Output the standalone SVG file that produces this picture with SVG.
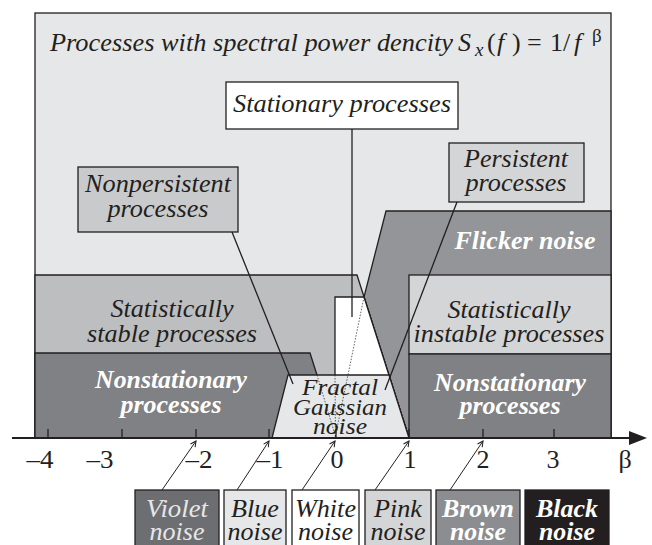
<svg xmlns="http://www.w3.org/2000/svg" width="652" height="545" viewBox="0 0 652 545">
<defs>
<style>
text{font-family:"Liberation Serif","Times New Roman",serif}
.t{font-style:italic;font-size:26px;fill:#231f20;text-anchor:middle}
.tb{font-style:italic;font-weight:bold;font-size:26px;fill:#ffffff;text-anchor:middle}
.n{font-size:26px;fill:#231f20;text-anchor:middle}
.r{stroke:#231f20;stroke-width:1.3;stroke-linejoin:miter}
.ln{stroke:#231f20;stroke-width:1.3;fill:none}
.dot{stroke:#231f20;stroke-width:0.7;fill:none;stroke-dasharray:1.5 1.5}
.ar{stroke:#231f20;stroke-width:1;fill:none;marker-end:url(#ah)}
</style>
<marker id="ah" viewBox="0 0 10 10" refX="9" refY="5" markerWidth="7" markerHeight="7" orient="auto" markerUnits="userSpaceOnUse">
<path d="M1,1 L9,5 L1,9" fill="none" stroke="#231f20" stroke-width="1.5"/>
</marker>
</defs>
<rect width="652" height="545" fill="#ffffff"/>

<g id="all-processes">
<rect class="r" x="35" y="13" width="576" height="425" fill="#e6e7e8"/>
<text class="t" x="50" y="51" style="text-anchor:start" textLength="403" lengthAdjust="spacingAndGlyphs">Processes with spectral power dencity</text>
<text class="t" x="458" y="51" style="text-anchor:start">S</text>
<text class="t" x="475" y="56" style="text-anchor:start;font-size:19px">x</text>
<text class="t" x="487" y="51" style="text-anchor:start;font-style:normal">(</text>
<text class="t" x="497" y="51" style="text-anchor:start">f</text>
<text class="t" x="512" y="51" style="text-anchor:start;font-style:normal">)</text>
<text class="t" x="527" y="51" style="text-anchor:start;font-style:normal">=</text>
<text class="t" x="550" y="51" style="text-anchor:start;font-style:normal">1/</text>
<text class="t" x="574" y="51" style="text-anchor:start">f</text>
<text class="t" x="592" y="42" style="text-anchor:start;font-style:normal;font-size:19px">β</text>
</g>

<g id="flicker-noise">
<polygon class="r" points="386,211 611,211 611,438 409,438 364,297" fill="#939598"/>
<text class="tb" x="525" y="249" textLength="141" lengthAdjust="spacingAndGlyphs">Flicker noise</text>
</g>

<g id="statistically-stable">
<polygon class="r" points="35,275 357,275 409,438 35,438" fill="#bdbec0"/>
<text class="t" x="172" y="317" textLength="123" lengthAdjust="spacingAndGlyphs">Statistically</text>
<text class="t" x="172" y="342" textLength="170" lengthAdjust="spacingAndGlyphs">stable processes</text>
</g>

<g id="statistically-instable">
<rect class="r" x="409" y="275" width="202" height="79" fill="#d4d5d6"/>
<text class="t" x="509" y="318" textLength="123" lengthAdjust="spacingAndGlyphs">Statistically</text>
<text class="t" x="509" y="342" textLength="191" lengthAdjust="spacingAndGlyphs">instable processes</text>
</g>

<g id="nonstationary-right">
<rect class="r" x="409" y="354" width="202" height="84" fill="#808184"/>
<text class="tb" x="510" y="391" textLength="152" lengthAdjust="spacingAndGlyphs">Nonstationary</text>
<text class="tb" x="510" y="414" textLength="101" lengthAdjust="spacingAndGlyphs">processes</text>
</g>

<g id="nonstationary-left">
<polygon class="r" points="35,353 310,353 337,438 35,438" fill="#808184"/>
<text class="tb" x="171" y="388" textLength="152" lengthAdjust="spacingAndGlyphs">Nonstationary</text>
<text class="tb" x="171" y="413" textLength="101" lengthAdjust="spacingAndGlyphs">processes</text>
</g>

<g id="stationary-area">
<polygon class="r" points="335,438 335,297 364,297 409,438" fill="#ffffff"/>
</g>

<g id="fractal-gaussian-noise">
<polygon class="r" points="272,438 288,375 389,375 409,438" fill="#e6e7e8"/>
<text class="t" x="340" y="395" style="font-size:23px" textLength="76" lengthAdjust="spacingAndGlyphs">Fractal</text>
<text class="t" x="340" y="415" style="font-size:23px" textLength="94" lengthAdjust="spacingAndGlyphs">Gaussian</text>
<text class="t" x="340" y="434" style="font-size:23px" textLength="54" lengthAdjust="spacingAndGlyphs">noise</text>
</g>

<g id="stationary-processes">
<rect class="r" x="226" y="82" width="232" height="47" fill="#ffffff"/>
<text class="t" x="342" y="112" textLength="218" lengthAdjust="spacingAndGlyphs">Stationary processes</text>
</g>

<g id="nonpersistent-processes">
<rect class="r" x="78" y="167" width="160" height="65" fill="#c9cacc"/>
<text class="t" x="158" y="192" textLength="146" lengthAdjust="spacingAndGlyphs">Nonpersistent</text>
<text class="t" x="158" y="217" textLength="101" lengthAdjust="spacingAndGlyphs">processes</text>
</g>

<g id="persistent-processes">
<rect class="r" x="449" y="143" width="135" height="59" fill="#d4d5d7"/>
<text class="t" x="516" y="167" textLength="104" lengthAdjust="spacingAndGlyphs">Persistent</text>
<text class="t" x="516" y="191" textLength="101" lengthAdjust="spacingAndGlyphs">processes</text>
</g>

<g id="connectors">
<line class="dot" x1="364" y1="297" x2="335" y2="438"/>
<line class="dot" x1="317" y1="375" x2="336" y2="438"/>
<line class="dot" x1="335" y1="375" x2="335.5" y2="438"/>
<line class="ln" x1="352" y1="129" x2="352" y2="317"/>
<line class="ln" x1="232" y1="232" x2="293" y2="384"/>
<line class="ln" x1="457" y1="202" x2="385" y2="390"/>
<line class="ar" x1="162" y1="490" x2="196" y2="441"/>
<line class="ar" x1="237" y1="490" x2="269" y2="441"/>
<line class="ar" x1="302" y1="490" x2="335" y2="441"/>
<line class="ar" x1="375" y1="490" x2="409" y2="441"/>
<line class="ar" x1="450" y1="490" x2="483" y2="441"/>
</g>

<g id="axis">
<line x1="12" y1="438" x2="632" y2="438" stroke="#231f20" stroke-width="2"/>
<polygon points="647,438 629,431 629,445" fill="#231f20"/>
<g stroke="#231f20" stroke-width="1.3">
<line x1="48" y1="429" x2="48" y2="438"/>
<line x1="122" y1="429" x2="122" y2="438"/>
<line x1="196" y1="429" x2="196" y2="438"/>
<line x1="269" y1="429" x2="269" y2="438"/>
<line x1="336" y1="431" x2="336" y2="438"/>
<line x1="409" y1="429" x2="409" y2="438"/>
<line x1="483" y1="429" x2="483" y2="438"/>
<line x1="554" y1="429" x2="554" y2="438"/>
</g>
<text class="n" x="40" y="468" textLength="27" lengthAdjust="spacingAndGlyphs">–4</text>
<text class="n" x="100" y="468" textLength="27" lengthAdjust="spacingAndGlyphs">–3</text>
<text class="n" x="199" y="468" textLength="27" lengthAdjust="spacingAndGlyphs">–2</text>
<text class="n" x="270" y="468" textLength="27" lengthAdjust="spacingAndGlyphs">–1</text>
<text class="n" x="337" y="468">0</text>
<text class="n" x="410" y="468">1</text>
<text class="n" x="483" y="468">2</text>
<text class="n" x="553" y="468">3</text>
<text class="n" x="625" y="468">β</text>
</g>

<g id="violet-noise">
<rect class="r" x="135" y="490" width="84" height="70" fill="#6d6e71"/>
<text class="t" x="177" y="517" style="fill:#e6e7e8" textLength="62" lengthAdjust="spacingAndGlyphs">Violet</text>
<text class="t" x="177" y="540" style="fill:#e6e7e8" textLength="55" lengthAdjust="spacingAndGlyphs">noise</text>
</g>
<g id="blue-noise">
<rect class="r" x="224" y="490" width="62" height="70" fill="#e6e7e8"/>
<text class="t" x="255" y="517" textLength="48" lengthAdjust="spacingAndGlyphs">Blue</text>
<text class="t" x="255" y="540" textLength="55" lengthAdjust="spacingAndGlyphs">noise</text>
</g>
<g id="white-noise">
<rect class="r" x="292" y="490" width="67" height="70" fill="#ffffff"/>
<text class="t" x="325.5" y="517" textLength="61" lengthAdjust="spacingAndGlyphs">White</text>
<text class="t" x="325.5" y="540" textLength="55" lengthAdjust="spacingAndGlyphs">noise</text>
</g>
<g id="pink-noise">
<rect class="r" x="365" y="490" width="66" height="70" fill="#d4d5d6"/>
<text class="t" x="398" y="517" textLength="48" lengthAdjust="spacingAndGlyphs">Pink</text>
<text class="t" x="398" y="540" textLength="55" lengthAdjust="spacingAndGlyphs">noise</text>
</g>
<g id="brown-noise">
<rect class="r" x="436" y="490" width="84" height="70" fill="#8c8d90"/>
<text class="tb" x="478" y="517" textLength="72" lengthAdjust="spacingAndGlyphs">Brown</text>
<text class="tb" x="478" y="540" textLength="56" lengthAdjust="spacingAndGlyphs">noise</text>
</g>
<g id="black-noise">
<rect class="r" x="525" y="490" width="84" height="70" fill="#231f20"/>
<text class="tb" x="567" y="517" textLength="62" lengthAdjust="spacingAndGlyphs">Black</text>
<text class="tb" x="567" y="540" textLength="56" lengthAdjust="spacingAndGlyphs">noise</text>
</g>
</svg>
